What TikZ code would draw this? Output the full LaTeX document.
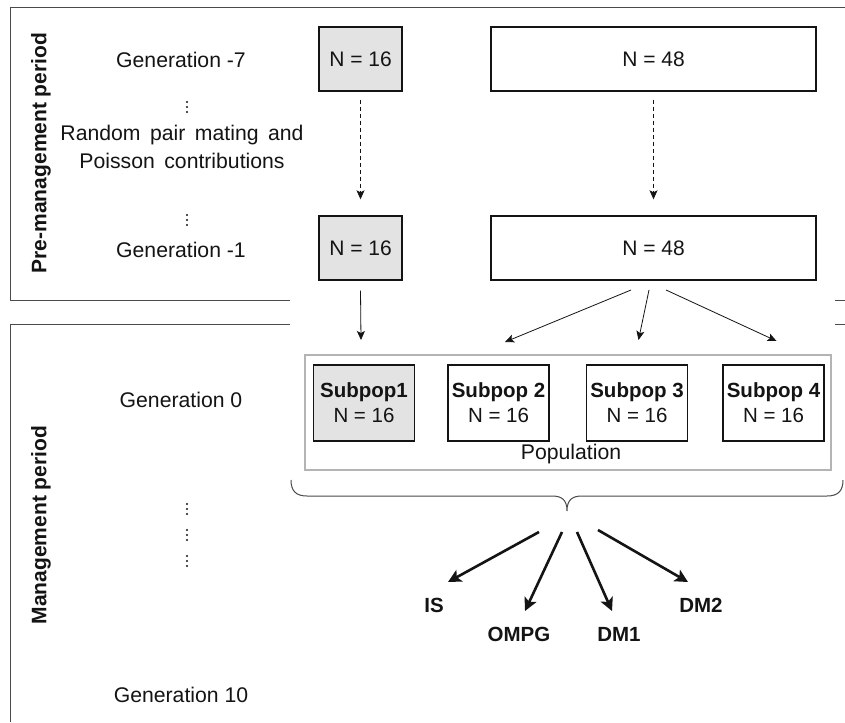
\documentclass[tikz,border=0pt]{standalone}
\usepackage{fontspec}
\setmainfont{Liberation Sans}
\usetikzlibrary{arrows.meta}
\definecolor{ink}{HTML}{141414}
\definecolor{framec}{HTML}{4A4A4A}
\definecolor{boxgray}{HTML}{E3E3E3}
\definecolor{popgray}{HTML}{B4B4B4}
\tikzset{
  frameline/.style={line width=0.9pt, draw=framec},
  nbox/.style={draw=ink, line width=1.4pt, inner sep=0pt, font=\fontsize{21}{24}\selectfont, text=ink},
  subbox/.style={draw=ink, line width=1.6pt, inner sep=0pt, minimum width=101pt, minimum height=76pt, align=center, font=\fontsize{20.5}{25}\selectfont, text=ink},
  popbox/.style={draw=popgray, line width=2.4pt, inner sep=0pt, minimum width=526pt, minimum height=115pt},
  lbl/.style={font=\fontsize{21.2}{28}\selectfont, text=ink, inner sep=0pt},
  vlbl/.style={font=\bfseries\fontsize{21}{24}\selectfont, text=ink, rotate=90, inner sep=0pt},
  outlbl/.style={font=\bfseries\fontsize{20.5}{24}\selectfont, text=ink, inner sep=0pt},
  thinarrow/.style={draw=ink, line width=0.8pt, -{Stealth[length=9pt,width=8pt,inset=2pt]}},
  dasharrow/.style={thinarrow, dash pattern=on 4pt off 3pt},
  boldarrow/.style={draw=ink, line width=2.6pt, -{Stealth[length=13pt,width=13pt,inset=3pt]}},
  bracepen/.style={draw=framec, line width=1pt},
}
\begin{document}
\begin{tikzpicture}[x=1pt, y=-1pt]
\useasboundingbox (0,0) rectangle (845,722);
\fill[white] (0,0) rectangle (845,722);

% frames
\draw[frameline] (845,7) -- (10,7) -- (10,300) -- (290,300);
\draw[frameline] (835,300) -- (845,300);
\draw[frameline] (290,324) -- (10,324) -- (10,722);
\draw[frameline] (835,324) -- (845,324);

% side labels
\node[vlbl] (pre) at (41,153) {Pre-management period};
\node[vlbl] (man) at (41,525) {Management period};

% generation labels
\node[lbl] (g7) at (181,60) {Generation -7};
\node[lbl, align=center] (rp) at (182,147) {Random\hspace{0.45em}pair\hspace{0.45em}mating\hspace{0.45em}and\\Poisson\hspace{0.45em}contributions};
\node[lbl] (g1) at (181,250) {Generation -1};
\node[lbl] (g0) at (181,400) {Generation 0};
\node[lbl] (g10) at (181,695) {Generation 10};

% vertical dots
\foreach \cy in {107,220,509,535,561}{
  \foreach \dy in {-5,0,5}{
    \fill[ink] (187,\cy+\dy) circle (1.1pt);
  }
}

% top rows of boxes
\node[nbox, fill=boxgray, minimum width=83pt, minimum height=64pt] (a7) at (360.5,59) {N = 16};
\node[nbox, minimum width=325pt, minimum height=64pt] (b7) at (653.5,59) {N = 48};
\node[nbox, fill=boxgray, minimum width=83pt, minimum height=64pt] (a1) at (360.5,248) {N = 16};
\node[nbox, minimum width=325pt, minimum height=64pt] (b1) at (653.5,248) {N = 48};

% population
\node[popbox] (pop) at (568,412.5) {};
\node[subbox, fill=boxgray] (s1) at (364,403) {\textbf{Subpop1}\\N = 16};
\node[subbox] (s2) at (498.5,403) {\textbf{Subpop 2}\\N = 16};
\node[subbox] (s3) at (637,403) {\textbf{Subpop 3}\\N = 16};
\node[subbox] (s4) at (773.5,403) {\textbf{Subpop 4}\\N = 16};
\node[lbl] (poplbl) at (571,454) {Population};

% dashed arrows
\draw[dasharrow] ([yshift=-8pt]a7.south) -- ([yshift=16pt]a1.north);
\draw[dasharrow] ([yshift=-8pt]b7.south) -- ([yshift=16pt]b1.north);

% arrows into subpopulations
\coordinate (t1) at (361,340);
\coordinate (b1s1) at (631,290);
\coordinate (b1s2) at (649,290);
\coordinate (b1s3) at (666,290);
\coordinate (t2) at (505,342);
\coordinate (t3) at (638.5,340);
\coordinate (t4) at (776.5,341);
\draw[thinarrow] ([yshift=-10pt]a1.south) -- (t1);
\draw[thinarrow] (b1s1) -- (t2);
\draw[thinarrow] (b1s2) -- (t3);
\draw[thinarrow] (b1s3) -- (t4);

% brace
\draw[bracepen] (291,480) .. controls (291,491) and (296,496) .. (307,496) -- (552,496)
  .. controls (562,496) and (567,500) .. (567,511)
  .. controls (567,500) and (572,496) .. (582,496) -- (827,496)
  .. controls (838,496) and (843,491) .. (843,480);

% outcome labels
\node[outlbl] (is) at (434,605) {IS};
\node[outlbl] (ompg) at (519,634) {OMPG};
\node[outlbl] (dm1) at (619,634) {DM1};
\node[outlbl] (dm2) at (701,605) {DM2};

% bold arrows
\coordinate (h1) at (539,532);
\coordinate (h2) at (562,532);
\coordinate (h3) at (577,532);
\coordinate (h4) at (598,530);
\coordinate (e1) at (448,582);
\coordinate (e2) at (525,611);
\coordinate (e3) at (612,611);
\coordinate (e4) at (688,582);
\draw[boldarrow] (h1) -- (e1);
\draw[boldarrow] (h2) -- (e2);
\draw[boldarrow] (h3) -- (e3);
\draw[boldarrow] (h4) -- (e4);
\end{tikzpicture}
\end{document}
